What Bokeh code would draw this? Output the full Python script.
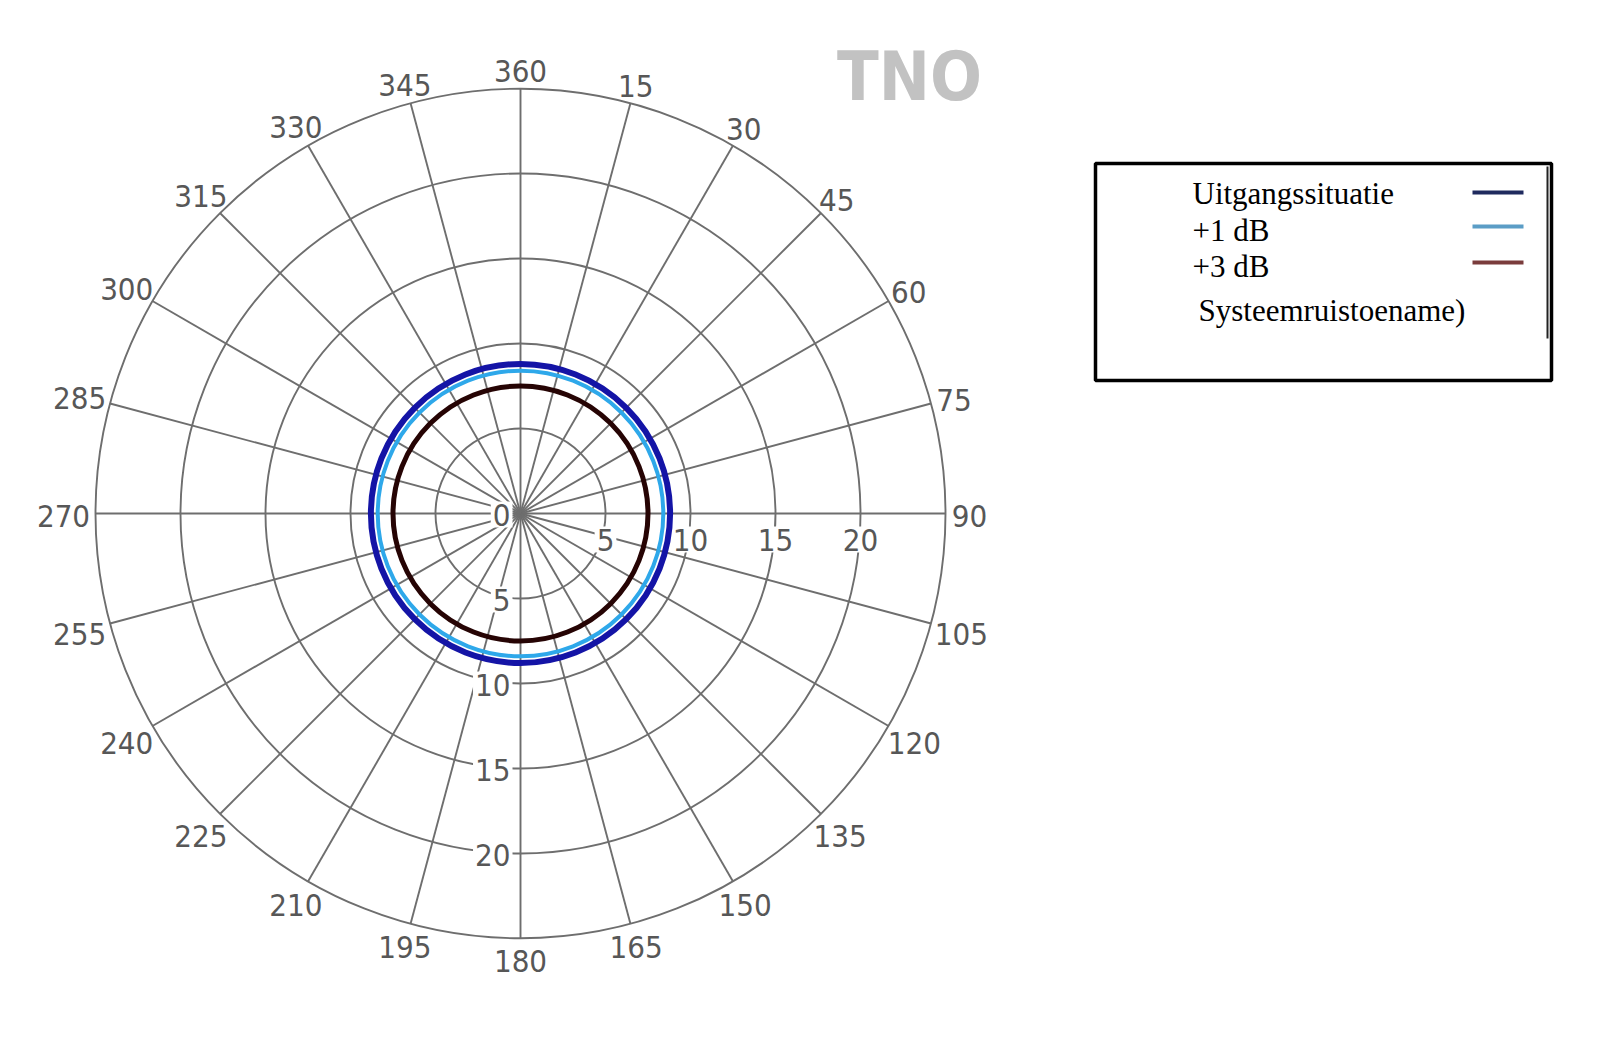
import math
from bokeh.plotting import figure
from bokeh.models import Range1d
from bokeh.core.properties import value
from bokeh.embed import file_html
from bokeh.resources import INLINE

# ---------------- data ----------------
series_names = ["Uitgangssituatie", "+1 dB", "+3 dB"]
series_radius = [8.8, 8.4, 7.5]          # detection range per series (constant in all directions)
legend_extra = "Systeemruistoename)"

angle_ticks = [0, 15, 30, 45, 60, 75, 90, 105, 120, 135, 150, 165,
               180, 195, 210, 225, 240, 255, 270, 285, 300, 315, 330, 345]
angle_labels = ["360", "15", "30", "45", "60", "75", "90", "105", "120", "135", "150", "165",
                "180", "195", "210", "225", "240", "255", "270", "285", "300", "315", "330", "345"]
radial_ticks = [5, 10, 15, 20]
radial_labels = ["5", "10", "15", "20"]
radial_max = 25

# ---------------- styles ----------------
plot_colors = ["#1414a6", "#2ea8ea", "#260404"]
plot_widths = [6, 4, 5]
legend_colors = ["#1f2a5e", "#5b9dc6", "#7a3c3c"]
grid_color = "#6e6e6e"
label_color = "#575757"
label_font = "DejaVu Sans Condensed"

# pixel layout helpers (reference pixels -> data units; 17 px per unit, centre at 520,513)
PX = 17.0
CX, CY = 520.0, 513.0
W, H = 1600, 1040
ORIGIN = 0


def dx(X):
    return (X - CX) / PX


def dy(Y):
    return (CY - Y) / PX


p = figure(width=W, height=H,
           x_range=Range1d(dx(ORIGIN), dx(ORIGIN) + W / PX),
           y_range=Range1d(dy(ORIGIN) - H / PX, dy(ORIGIN)),
           output_backend="svg", toolbar_location=None, min_border=0,
           x_axis_location=None, y_axis_location=None)
p.grid.visible = False
p.outline_line_color = None
p.background_fill_color = "white"
p.border_fill_color = "white"

# spokes
sx1 = [radial_max * math.sin(math.radians(a)) for a in angle_ticks]
sy1 = [radial_max * math.cos(math.radians(a)) for a in angle_ticks]
p.segment(x0=[0] * len(angle_ticks), y0=[0] * len(angle_ticks), x1=sx1, y1=sy1,
          line_color=grid_color, line_width=1.9)

# rings
rings = radial_ticks + [radial_max]
p.circle(x=[0] * len(rings), y=[0] * len(rings), radius=rings, radius_units="data",
         fill_color=None, line_color=grid_color, line_width=1.9)

# angle labels
lx, ly = [], []
for a, lab in zip(angle_ticks, angle_labels):
    t = math.radians(a)
    hw = len(lab) * 8.0
    r = 445 + (hw - 12) * abs(math.sin(t)) ** 1.5
    lx.append(r * math.sin(t) / PX)
    ly.append(r * math.cos(t) / PX - 2.5 / PX)
p.text(x=lx, y=ly, text=angle_labels, text_font=value(label_font), text_font_size="31px",
       text_color=label_color, text_align="center", text_baseline="middle")

# radial labels along 90 deg (right)
p.text(x=radial_ticks, y=[dy(CY + 26)] * len(radial_ticks), text=radial_labels,
       text_font=value(label_font), text_font_size="31px", text_color=label_color,
       text_align="center", text_baseline="middle",
       background_fill_color="white", padding=2)
# radial labels along 180 deg (down)
p.text(x=[dx(CX - 8)] * len(radial_ticks), y=[-r - 1.0 / PX for r in radial_ticks], text=radial_labels,
       text_font=value(label_font), text_font_size="31px", text_color=label_color,
       text_align="right", text_baseline="middle",
       background_fill_color="white", padding=2)
p.text(x=[dx(CX - 8)], y=[-1.0 / PX], text=["0"],
       text_font=value(label_font), text_font_size="31px", text_color=label_color,
       text_align="right", text_baseline="middle",
       background_fill_color="white", padding=2)

# data series (circles of constant range)
for name, r, c, lw in zip(series_names, series_radius, plot_colors, plot_widths):
    p.circle(x=[0], y=[0], radius=[r], radius_units="data", fill_color=None,
             line_color=c, line_width=lw)

# TNO logo
p.text(x=[dx(909)], y=[dy(76)], text=["TNO"], text_font=value(label_font),
       text_font_style="bold", text_font_size="68px", text_color="#c2c2c2",
       text_align="center", text_baseline="middle")

# legend box
p.quad(left=[dx(1095)], right=[dx(1551)], top=[dy(163)], bottom=[dy(380)],
       fill_color=None, line_color="black", line_width=3.5)
p.segment(x0=[dx(1547)], y0=[dy(166)], x1=[dx(1547)], y1=[dy(338)],
          line_color="#222222", line_width=2)

leg_text_y = [193, 230, 266]
p.text(x=[dx(1192)] * 3, y=[dy(v) for v in leg_text_y], text=series_names,
       text_font=value("Liberation Serif"), text_font_size="31px", text_color="black",
       text_align="left", text_baseline="alphabetic")
p.text(x=[dx(1198)], y=[dy(310)], text=[legend_extra],
       text_font=value("Liberation Serif"), text_font_size="31px", text_color="black",
       text_align="left", text_baseline="alphabetic")
leg_line_y = [192, 226, 262]
p.segment(x0=[dx(1472)] * 3, y0=[dy(v) for v in leg_line_y],
          x1=[dx(1523)] * 3, y1=[dy(v) for v in leg_line_y],
          line_color=legend_colors, line_width=4)

open("out.html", "w").write(file_html(p, INLINE))
